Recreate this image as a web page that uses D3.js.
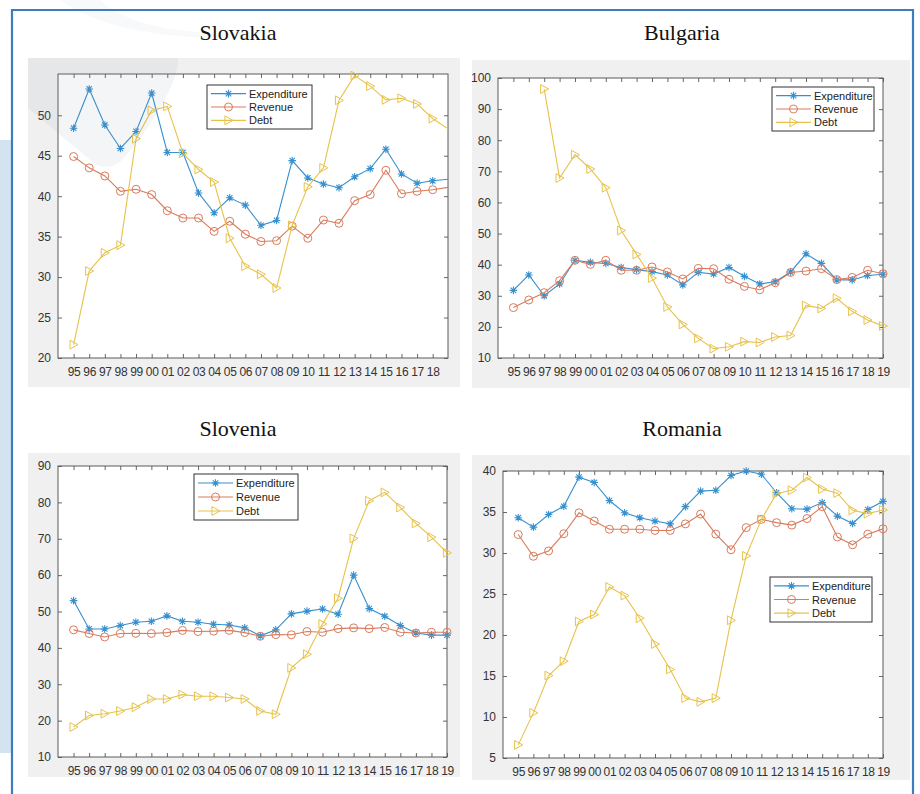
<!DOCTYPE html>
<html>
<head>
<meta charset="utf-8">
<script src="https://cdn.jsdelivr.net/npm/d3@7"></script>
<style>
  body { margin: 0; background: #fff; }
  svg { display: block; }
</style>
</head>
<body>
<svg id="fig" width="920" height="794"></svg>
<script>
// Fiscal indicators (% of GDP), 1995-2019
const years = ["95","96","97","98","99","00","01","02","03","04","05","06","07","08","09","10","11","12","13","14","15","16","17","18","19"];
const seriesNames = ["Expenditure", "Revenue", "Debt"];

const slovakiaExpenditure = [48.4,53.25,48.8,45.9,48.0,52.75,45.4,45.4,40.4,37.95,39.8,38.9,36.4,37.0,44.4,42.25,41.5,41.05,42.4,43.4,45.8,42.75,41.6,41.9,42.1];
const slovakiaRevenue     = [44.9,43.5,42.5,40.6,40.85,40.2,38.2,37.3,37.3,35.65,36.9,35.3,34.4,34.5,36.3,34.8,37.05,36.65,39.45,40.2,43.2,40.3,40.6,40.8,41.1];
const slovakiaDebt        = [21.65,30.75,33.0,33.95,47.1,50.6,51.1,45.3,43.3,41.75,34.8,31.35,30.35,28.65,36.4,41.15,43.5,51.85,54.9,53.6,51.9,52.1,51.4,49.6,48.3];

const bulgariaExpenditure = [31.75,36.7,30.0,33.8,41.4,40.75,40.4,39.1,38.4,37.75,36.7,33.5,37.5,37.0,39.1,36.25,33.8,34.5,37.65,43.5,40.4,35.1,35.1,36.5,36.9];
const bulgariaRevenue     = [26.2,28.65,31.0,34.85,41.4,40.1,41.4,38.2,38.2,39.25,37.65,35.4,38.8,38.7,35.3,33.0,31.95,34.2,37.5,37.95,38.7,35.2,35.9,38.2,37.1];
const bulgariaDebt        = [null,null,96.45,67.85,75.35,70.75,64.75,51.0,43.3,35.7,26.4,20.8,16.3,13.0,13.6,15.25,15.0,16.75,17.2,26.9,25.95,29.2,25.0,22.2,20.3];

const sloveniaExpenditure = [53.0,45.2,45.2,46.15,47.05,47.3,48.8,47.3,47.05,46.5,46.3,45.5,43.3,44.95,49.35,50.1,50.7,49.25,60.0,50.8,48.7,46.15,44.1,43.5,43.5];
const sloveniaRevenue     = [44.95,43.95,43.0,43.95,44.0,43.95,44.2,44.8,44.5,44.6,44.8,44.2,43.2,43.65,43.6,44.5,44.3,45.3,45.5,45.3,45.6,44.3,44.1,44.3,44.3];
const sloveniaDebt        = [18.25,21.4,21.9,22.65,23.7,25.95,25.95,27.15,26.7,26.7,26.35,25.95,22.65,21.75,34.5,38.25,46.6,53.65,70.1,80.45,82.75,78.6,74.2,70.45,66.15];

const romaniaExpenditure  = [34.3,33.15,34.7,35.7,39.25,38.6,36.4,34.9,34.3,33.9,33.55,35.65,37.55,37.65,39.45,40.0,39.6,37.35,35.4,35.35,36.15,34.5,33.6,35.3,36.3];
const romaniaRevenue      = [32.25,29.6,30.25,32.35,34.9,33.9,32.9,32.9,32.9,32.75,32.75,33.55,34.75,32.3,30.4,33.1,34.1,33.7,33.4,34.2,35.65,31.95,31.0,32.3,32.95];
const romaniaDebt         = [6.6,10.5,15.05,16.8,21.65,22.5,25.85,24.8,22.05,18.9,15.8,12.3,11.85,12.3,21.8,29.65,34.1,37.25,37.65,39.2,37.8,37.3,35.2,34.8,35.25];

const slovakiaYTicks = [20,25,30,35,40,45,50];
const bulgariaYTicks = [10,20,30,40,50,60,70,80,90,100];
const sloveniaYTicks = [10,20,30,40,50,60,70,80,90];
const romaniaYTicks  = [5,10,15,20,25,30,35,40];

const colors = ["#3590cf", "#d97b5c", "#e7c24a"];
const markerKinds = ["asterisk", "circle", "triangle"];

const panels = [
  { title: "Slovakia", series: [slovakiaExpenditure, slovakiaRevenue, slovakiaDebt],
    yDomain: [20, 55.1], yTicks: slovakiaYTicks, xMax: 23.98, labelCount: 24,
    bg: {x: 28, y: 58, w: 432, h: 329}, plot: {x: 58, y: 74, w: 390, h: 284},
    legend: {x: 207, y: 85, w: 105, h: 44}, titleX: 238, titleY: 40 },
  { title: "Bulgaria", series: [bulgariaExpenditure, bulgariaRevenue, bulgariaDebt],
    yDomain: [10, 100], yTicks: bulgariaYTicks, xMax: 24, labelCount: 25,
    bg: {x: 472, y: 60, w: 438, h: 328}, plot: {x: 498, y: 78, w: 385, h: 280},
    legend: {x: 772, y: 87, w: 102, h: 44}, titleX: 682, titleY: 40 },
  { title: "Slovenia", series: [sloveniaExpenditure, sloveniaRevenue, sloveniaDebt],
    yDomain: [10, 90], yTicks: sloveniaYTicks, xMax: 24, labelCount: 25,
    bg: {x: 28, y: 453, w: 432, h: 324}, plot: {x: 58, y: 466, w: 389, h: 291},
    legend: {x: 194, y: 474, w: 104, h: 46}, titleX: 238, titleY: 436 },
  { title: "Romania", series: [romaniaExpenditure, romaniaRevenue, romaniaDebt],
    yDomain: [5, 40], yTicks: romaniaYTicks, xMax: 24, labelCount: 25,
    bg: {x: 472, y: 455, w: 438, h: 325}, plot: {x: 503, y: 471, w: 380, h: 287},
    legend: {x: 770, y: 577, w: 102, h: 45}, titleX: 682, titleY: 436 }
];

const svg = d3.select("#fig");
const defs = svg.append("defs");

// light decorative strip at the far left edge
svg.append("rect").attr("x", 0).attr("y", 140).attr("width", 11).attr("height", 613)
  .attr("fill", "#d2e4f1");

// outer frame
svg.append("path")
  .attr("d", "M12,800 L12,10 L913,10 L913,800")
  .attr("fill", "none").attr("stroke", "#3d7dbf").attr("stroke-width", 2.2);

function drawMarker(g, kind, color) {
  if (kind === "asterisk") {
    const r = 3.8, d = r * 0.72;
    g.append("path")
      .attr("d", `M${-r},0L${r},0M0,${-r}L0,${r}M${-d},${-d}L${d},${d}M${-d},${d}L${d},${-d}`)
      .attr("stroke", color).attr("stroke-width", 1.1).attr("fill", "none");
  } else if (kind === "circle") {
    g.append("circle").attr("r", 4).attr("fill", "none")
      .attr("stroke", color).attr("stroke-width", 1);
  } else {
    g.append("path").attr("d", "M-3.6,-4.4L4.4,0L-3.6,4.4Z")
      .attr("fill", "none").attr("stroke", color).attr("stroke-width", 1);
  }
}

panels.forEach((p, pi) => {
  const root = svg.append("g");

  root.append("text")
    .attr("x", p.titleX).attr("y", p.titleY)
    .attr("text-anchor", "middle")
    .attr("font-family", "'Liberation Serif', 'Times New Roman', serif")
    .attr("font-size", 22).attr("fill", "#111")
    .text(p.title);

  root.append("rect")
    .attr("x", p.bg.x).attr("y", p.bg.y).attr("width", p.bg.w).attr("height", p.bg.h)
    .attr("fill", "#f0f0f0");

  const x = d3.scaleLinear().domain([-1, p.xMax]).range([p.plot.x, p.plot.x + p.plot.w]);
  const y = d3.scaleLinear().domain(p.yDomain).range([p.plot.y + p.plot.h, p.plot.y]);

  root.append("rect")
    .attr("x", p.plot.x).attr("y", p.plot.y).attr("width", p.plot.w).attr("height", p.plot.h)
    .attr("fill", "#fff");

  const labelIdx = d3.range(p.labelCount);
  const tickFont = "'Liberation Sans', Arial, sans-serif";

  // bottom & top axes (ticks pointing inward)
  const xBottom = d3.axisBottom(x).tickValues(labelIdx).tickFormat(i => years[i])
    .tickSizeInner(-4).tickSizeOuter(0).tickPadding(9);
  const gxb = root.append("g").attr("transform", `translate(0,${p.plot.y + p.plot.h})`).call(xBottom);
  const xTop = d3.axisTop(x).tickValues(labelIdx).tickFormat("").tickSizeInner(-4).tickSizeOuter(0);
  const gxt = root.append("g").attr("transform", `translate(0,${p.plot.y})`).call(xTop);

  const yLeft = d3.axisLeft(y).tickValues(p.yTicks).tickFormat(d3.format("d"))
    .tickSizeInner(-4).tickSizeOuter(0).tickPadding(7);
  const gyl = root.append("g").attr("transform", `translate(${p.plot.x},0)`).call(yLeft);
  const yRight = d3.axisRight(y).tickValues(p.yTicks).tickFormat("").tickSizeInner(-4).tickSizeOuter(0);
  const gyr = root.append("g").attr("transform", `translate(${p.plot.x + p.plot.w},0)`).call(yRight);

  [gxb, gxt, gyl, gyr].forEach(g => {
    g.select(".domain").remove();
    g.selectAll(".tick line").attr("stroke", "#555").attr("stroke-width", 0.9);
    g.selectAll("text").attr("font-family", tickFont).attr("font-size", 12).attr("fill", "#333");
  });
  gxb.selectAll("text").attr("letter-spacing", -0.3);

  root.append("rect")
    .attr("x", p.plot.x).attr("y", p.plot.y).attr("width", p.plot.w).attr("height", p.plot.h)
    .attr("fill", "none").attr("stroke", "#5a5a5a").attr("stroke-width", 1);

  const clipId = "clip" + pi;
  defs.append("clipPath").attr("id", clipId).append("rect")
    .attr("x", p.plot.x).attr("y", p.plot.y).attr("width", p.plot.w).attr("height", p.plot.h);

  p.series.forEach((vals, si) => {
    const line = d3.line().defined(v => v != null).x((v, i) => x(i)).y(v => y(v));
    root.append("path").datum(vals)
      .attr("d", line).attr("fill", "none")
      .attr("stroke", colors[si]).attr("stroke-width", 1.1)
      .attr("clip-path", `url(#${clipId})`);
    vals.forEach((v, i) => {
      if (v == null || i > p.xMax) return;
      const g = root.append("g").attr("transform", `translate(${x(i)},${y(v)})`);
      drawMarker(g, markerKinds[si], colors[si]);
    });
  });

  // legend
  const L = p.legend;
  const lg = root.append("g").attr("transform", `translate(${L.x},${L.y})`);
  lg.append("rect").attr("width", L.w).attr("height", L.h)
    .attr("fill", "#fff").attr("stroke", "#333").attr("stroke-width", 1);
  const rowH = (L.h - 4) / 3;
  seriesNames.forEach((name, si) => {
    const cy = 2 + rowH * (si + 0.5);
    lg.append("line").attr("x1", 4).attr("x2", 39).attr("y1", cy).attr("y2", cy)
      .attr("stroke", colors[si]).attr("stroke-width", 1.1);
    const mg = lg.append("g").attr("transform", `translate(21.5,${cy})`);
    drawMarker(mg, markerKinds[si], colors[si]);
    lg.append("text").attr("x", 42).attr("y", cy + 4)
      .attr("font-family", tickFont).attr("font-size", 11).attr("fill", "#222")
      .text(name);
  });
});

// faint diagonal swoosh overlay at upper left
svg.append("path")
  .attr("d", "M28,58 L178,58 C180,80 150,130 122,160 C112,170 98,168 90,160 L28,108 Z")
  .attr("fill", "#7a8fa8").attr("opacity", 0.09);
svg.append("path")
  .attr("d", "M60,0 L100,0 C120,20 160,32 230,34 L230,38 C150,38 95,25 60,0 Z")
  .attr("fill", "#7a8fa8").attr("opacity", 0.05);
</script>
</body>
</html>
